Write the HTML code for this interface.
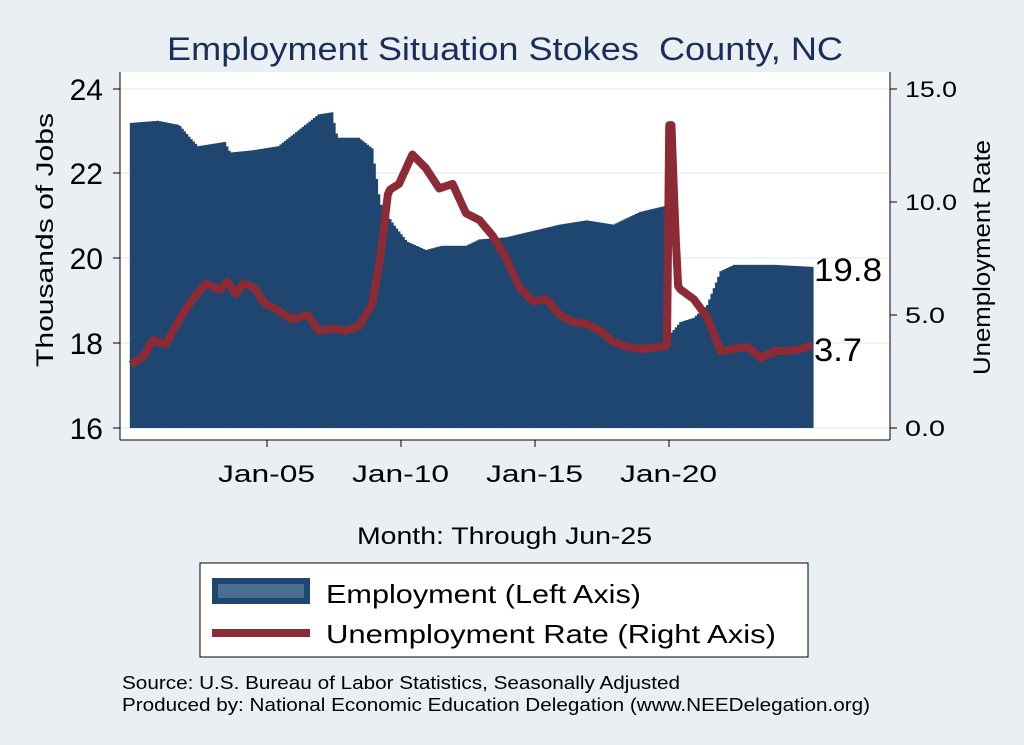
<!DOCTYPE html>
<html><head><meta charset="utf-8"><style>
body{margin:0;background:#e9eff3;}
svg{display:block;font-family:"Liberation Sans",Arial,sans-serif;}
</style></head><body>
<svg id="s" width="1024" height="745" xmlns="http://www.w3.org/2000/svg">
<rect x="0" y="0" width="1024" height="745" fill="#e9eff3"/>
<text x="167" y="60" font-size="32" fill="#1a2e5a" textLength="676" lengthAdjust="spacingAndGlyphs">Employment Situation Stokes&#160; County, NC</text>
<rect x="120" y="72" width="770" height="368" fill="#ffffff"/>
<g stroke="#e9eff3" stroke-width="1.5">
<line x1="120" y1="89" x2="890" y2="89"/><line x1="120" y1="173" x2="890" y2="173"/>
<line x1="120" y1="258" x2="890" y2="258"/><line x1="120" y1="343" x2="890" y2="343"/>
<line x1="120" y1="428" x2="890" y2="428"/>
</g>
<g id="bars"></g>
<path id="ur" fill="none" stroke="#8c2b35" stroke-width="8" stroke-linejoin="round"/>
<g stroke="#000" stroke-width="1">
<line x1="120" y1="72" x2="120" y2="440"/><line x1="890" y1="72" x2="890" y2="440"/>
<line x1="120" y1="440" x2="890" y2="440"/>
<line x1="113" y1="89" x2="120" y2="89"/><line x1="113" y1="173" x2="120" y2="173"/><line x1="113" y1="258" x2="120" y2="258"/><line x1="113" y1="343" x2="120" y2="343"/><line x1="113" y1="428" x2="120" y2="428"/>
<line x1="890" y1="89" x2="897" y2="89"/><line x1="890" y1="202" x2="897" y2="202"/><line x1="890" y1="315" x2="897" y2="315"/><line x1="890" y1="428" x2="897" y2="428"/>
<line x1="267" y1="440" x2="267" y2="447"/><line x1="401" y1="440" x2="401" y2="447"/><line x1="535" y1="440" x2="535" y2="447"/><line x1="669" y1="440" x2="669" y2="447"/>
</g>
<g font-size="30" fill="#000" text-anchor="end">
<text x="103" y="100">24</text><text x="103" y="184">22</text><text x="103" y="269">20</text><text x="103" y="354">18</text><text x="103" y="439">16</text>
</g>
<g font-size="22" fill="#000">
<text x="905" y="97" textLength="52" lengthAdjust="spacingAndGlyphs">15.0</text><text x="905" y="210" textLength="52" lengthAdjust="spacingAndGlyphs">10.0</text><text x="905" y="323" textLength="40" lengthAdjust="spacingAndGlyphs">5.0</text><text x="905" y="436" textLength="40" lengthAdjust="spacingAndGlyphs">0.0</text>
</g>
<g font-size="24" fill="#000">
<text x="218" y="482" textLength="97" lengthAdjust="spacingAndGlyphs">Jan-05</text><text x="352" y="482" textLength="97" lengthAdjust="spacingAndGlyphs">Jan-10</text><text x="486" y="482" textLength="97" lengthAdjust="spacingAndGlyphs">Jan-15</text><text x="620" y="482" textLength="97" lengthAdjust="spacingAndGlyphs">Jan-20</text>
<text x="357" y="544" textLength="295" lengthAdjust="spacingAndGlyphs">Month: Through Jun-25</text>
</g>
<text transform="translate(53,367) rotate(-90)" font-size="24" textLength="254" lengthAdjust="spacingAndGlyphs">Thousands of Jobs</text>
<text transform="translate(990,375) rotate(-90)" font-size="24" textLength="235" lengthAdjust="spacingAndGlyphs">Unemployment Rate</text>
<text x="814" y="281" font-size="32" textLength="68" lengthAdjust="spacingAndGlyphs">19.8</text>
<text x="814" y="361" font-size="32" textLength="48" lengthAdjust="spacingAndGlyphs">3.7</text>
<rect x="200" y="563" width="608" height="94" fill="#fff" stroke="#000" stroke-width="1"/>
<rect x="212" y="578" width="98" height="26" fill="#1f4670"/>
<rect x="218" y="584" width="86" height="14" fill="#4c6e93"/>
<text x="326" y="603" font-size="26" textLength="315" lengthAdjust="spacingAndGlyphs">Employment (Left Axis)</text>
<line x1="212" y1="633" x2="310" y2="633" stroke="#8c2b35" stroke-width="8"/>
<text x="326" y="643" font-size="26" textLength="450" lengthAdjust="spacingAndGlyphs">Unemployment Rate (Right Axis)</text>
<text x="122" y="689" font-size="18" textLength="558" lengthAdjust="spacingAndGlyphs">Source: U.S. Bureau of Labor Statistics, Seasonally Adjusted</text>
<text x="122" y="711" font-size="18" textLength="748" lengthAdjust="spacingAndGlyphs">Produced by: National Economic Education Delegation (www.NEEDelegation.org)</text>
</svg>
<script>
function interp(k,t){for(var i=0;i<k.length-1;i++){if(t>=k[i][0]&&t<=k[i+1][0]){var a=k[i],b=k[i+1];return a[1]+(b[1]-a[1])*(t-a[0])/(b[0]-a[0]);}}return k[k.length-1][1];}
var emp=[[2000,23.2],[2001,23.25],[2001.8,23.15],[2002.2,22.85],[2002.5,22.65],[2003,22.7],[2003.5,22.75],[2003.7,22.5],[2004.5,22.55],[2005,22.6],[2005.5,22.65],[2006,22.9],[2006.6,23.2],[2007,23.4],[2007.5,23.45],[2007.7,22.85],[2008.5,22.85],[2009,22.6],[2009.3,21.3],[2009.8,20.8],[2010.3,20.4],[2011,20.2],[2011.6,20.3],[2012.5,20.3],[2013,20.45],[2014,20.5],[2015,20.65],[2016,20.8],[2017,20.9],[2018,20.8],[2019,21.1],[2020.0,21.25],[2020.1,18.2],[2020.5,18.5],[2021,18.6],[2021.5,18.9],[2022,19.7],[2022.5,19.85],[2024,19.85],[2025.5,19.8]];
var ur=[[2000,2.8],[2000.5,3.2],[2000.8,3.9],[2001.3,3.7],[2001.8,4.8],[2002.3,5.7],[2002.8,6.4],[2003.3,6.1],[2003.6,6.5],[2003.9,5.9],[2004.2,6.4],[2004.6,6.2],[2005,5.5],[2005.5,5.2],[2006,4.8],[2006.6,5.0],[2007,4.3],[2007.6,4.4],[2008,4.3],[2008.5,4.5],[2009,5.5],[2009.3,7.5],[2009.6,10.5],[2010,10.8],[2010.5,12.1],[2011,11.5],[2011.5,10.6],[2012,10.8],[2012.5,9.5],[2013,9.2],[2013.5,8.5],[2014,7.5],[2014.5,6.2],[2015,5.6],[2015.5,5.7],[2016,5.0],[2016.5,4.7],[2017,4.6],[2017.5,4.3],[2018,3.8],[2018.5,3.6],[2019,3.5],[2019.9,3.6],[2020.0,3.7],[2020.08,13.4],[2020.17,13.4],[2020.3,9],[2020.42,6.2],[2021,5.7],[2021.5,4.9],[2022,3.4],[2022.5,3.5],[2023,3.6],[2023.5,3.1],[2024,3.4],[2024.5,3.4],[2025,3.5],[2025.5,3.7]];
function X(t){return 131+(t-2000)*26.8;}
var b='';for(var m=0;m<306;m++){var t=2000+m/12;var v=interp(emp,t);var y=428-(v-16)*42.375;b+='<rect x="'+(X(t)-1.2).toFixed(2)+'" y="'+y.toFixed(2)+'" width="2.6" height="'+(428-y).toFixed(2)+'" fill="#1f4670"/>';}
document.getElementById('bars').innerHTML=b;
var d='';for(var m=0;m<306;m++){var t=2000+m/12;var v=interp(ur,t);d+=(m?'L':'M')+X(t).toFixed(2)+' '+(428-v*22.6).toFixed(2);}
document.getElementById('ur').setAttribute('d',d);
</script>
</body></html>
